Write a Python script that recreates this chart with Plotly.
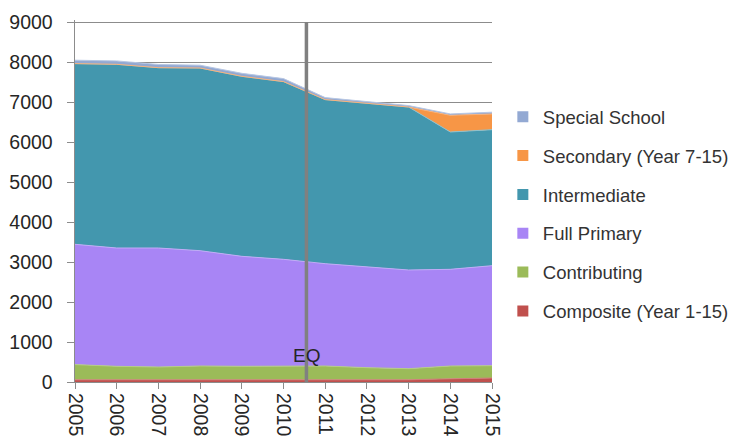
import plotly.graph_objects as go

years = [2005, 2006, 2007, 2008, 2009, 2010, 2011, 2012, 2013, 2014, 2015]
composite = [55, 55, 55, 55, 55, 55, 55, 55, 55, 80, 100]
contributing = [380, 337, 320, 345, 337, 345, 345, 303, 278, 320, 308]
full_primary = [3007, 2958, 2975, 2883, 2750, 2667, 2558, 2517, 2467, 2417, 2500]
intermediate = [4518, 4592, 4508, 4567, 4500, 4443, 4102, 4100, 4075, 3433, 3400]
secondary = [0, 0, 0, 0, 0, 0, 0, 0, 0, 417, 392]
special_school = [85, 85, 80, 70, 75, 75, 50, 40, 35, 35, 45]

series = [
    ("Composite (Year 1-15)", composite, "#C0504D", "#D27E7C"),
    ("Contributing", contributing, "#9BBB59", "#B5CD84"),
    ("Full Primary", full_primary, "#A885F5", "#C2AAF8"),
    ("Intermediate", intermediate, "#4397AE", "#8CC0CE"),
    ("Secondary (Year 7-15)", secondary, "#F79646", "#F9B27A"),
    ("Special School", special_school, "#93A9D3", "#B8C7E3"),
]

eq_x = 2010.55
eq_label = "EQ"

fig = go.Figure()
for name, vals, col, edge in series:
    fig.add_trace(go.Scatter(
        x=years, y=vals, name=name, stackgroup="one", mode="lines",
        line=dict(color=edge, width=1), fillcolor=col, showlegend=False,
        hoverinfo="x+y+name",
    ))

# legend entries (square swatches), top to bottom
for i, (name, vals, col, edge) in enumerate(reversed(series)):
    fig.add_trace(go.Scatter(
        x=[None], y=[None], name=name, mode="markers",
        marker=dict(symbol="square", size=11, color=col),
        legendgroup=name, showlegend=True,
    ))

fig.add_shape(type="line", xref="x", yref="y", x0=eq_x, x1=eq_x, y0=0, y1=9000,
              line=dict(color="#808080", width=3.5), layer="above")
fig.add_annotation(x=eq_x, y=670, text=eq_label, showarrow=False,
                   font=dict(size=19, color="#262626"), xanchor="center", yanchor="middle")

font_family = "Liberation Sans, Arial, sans-serif"
# the page body has an 8px default margin, so the figure is 8px smaller
fig.update_layout(
    width=730, height=433,
    margin=dict(l=67, r=246, t=12, b=59, autoexpand=False),
    plot_bgcolor="white", paper_bgcolor="white",
    font=dict(family=font_family, size=18, color="#262626"),
    showlegend=True,
    legend=dict(
        x=1.026, xanchor="left", y=0.784, yanchor="top",
        font=dict(size=18.5, color="#333333"),
        tracegroupgap=11.8, itemwidth=30,
        bgcolor="rgba(0,0,0,0)",
    ),
    xaxis=dict(
        range=[2005, 2015], tickmode="array", tickvals=years,
        ticktext=[str(y) for y in years], tickangle=90,
        showgrid=False, showline=True, linecolor="#8c8c8c", linewidth=1,
        ticks="outside", ticklen=6, tickcolor="#8c8c8c",
        tickfont=dict(size=19.5, color="#262626"), zeroline=False,
        automargin=False,
    ),
    yaxis=dict(
        range=[0, 9050], tick0=0, dtick=1000,
        showgrid=True, gridcolor="#8c8c8c", gridwidth=1,
        showline=True, linecolor="#8c8c8c", linewidth=1,
        ticks="outside", ticklen=7, tickcolor="#8c8c8c",
        tickfont=dict(size=19.5, color="#262626"), zeroline=False,
        ticksuffix=" ", ticklabelstandoff=5, automargin=False,
    ),
)

fig.write_html("out.html")
